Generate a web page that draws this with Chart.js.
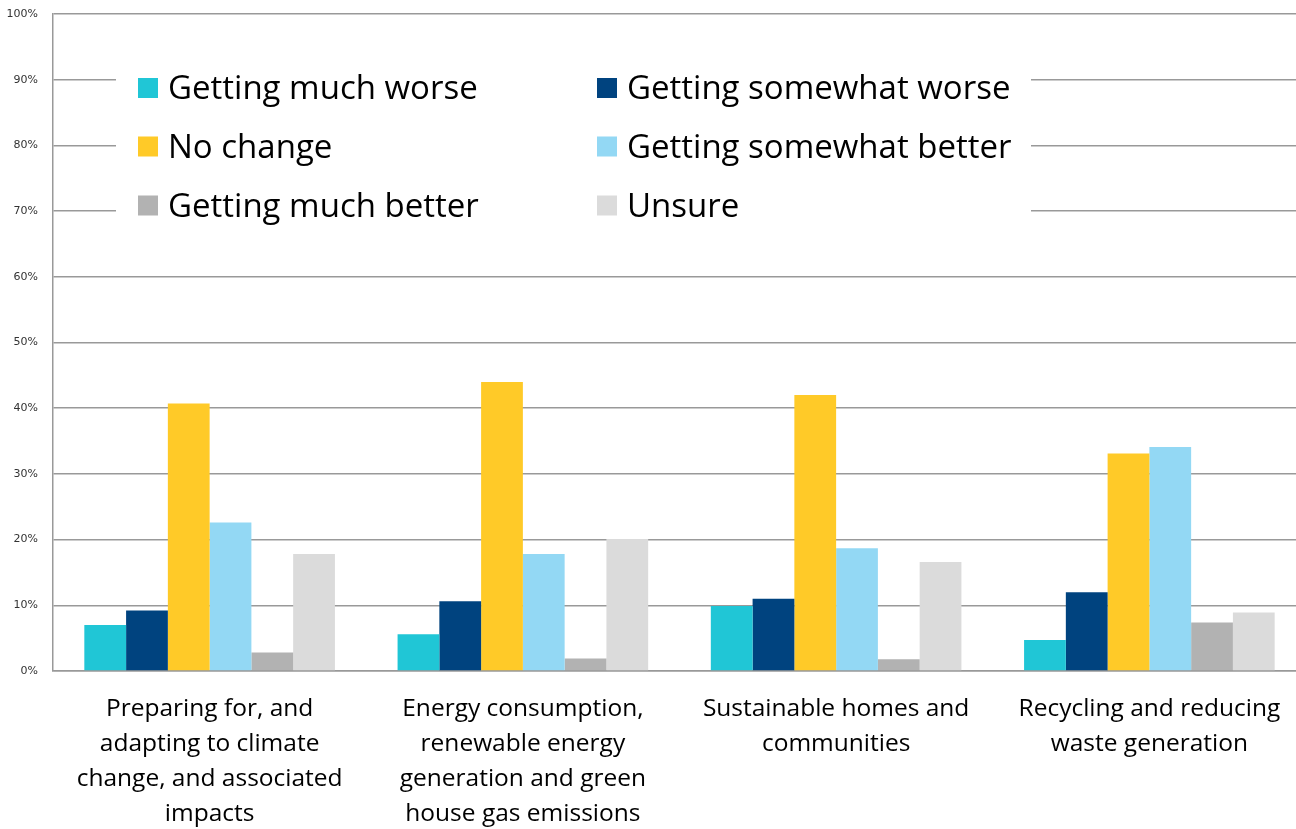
<!DOCTYPE html>
<html>
<head>
<meta charset="utf-8">
<script src="https://cdn.jsdelivr.net/npm/chart.js@4.4.1/dist/chart.umd.min.js"></script>
<style>
  html, body { margin: 0; padding: 0; background: #fff; overflow: hidden; }
  #wrap { width: 1306px; height: 829px; }
</style>
</head>
<body>
<div id="wrap"><canvas id="c" width="1306" height="829"></canvas></div>
<script>
// Kategorien (mehrzeilige Beschriftungen)
const categories = [
    ['Preparing for, and', 'adapting to climate', 'change, and associated', 'impacts'],
    ['Energy consumption,', 'renewable energy', 'generation and green', 'house gas emissions'],
    ['Sustainable homes and', 'communities'],
    ['Recycling and reducing', 'waste generation']
];

const seriesNames = ['Getting much worse', 'Getting somewhat worse', 'No change',
    'Getting somewhat better', 'Getting much better', 'Unsure'];
const seriesColors = ['#20C6D6', '#00437F', '#FFCA28', '#93D8F4', '#B2B2B2', '#DBDBDB'];

// Werte in Prozent
const muchWorse     = [7.0, 5.6, 9.9, 4.7];
const somewhatWorse = [9.2, 10.6, 11.0, 12.0];
const noChange      = [40.7, 44.0, 42.0, 33.1];
const somewhatBetter = [22.6, 17.8, 18.7, 34.1];
const muchBetter    = [2.8, 1.9, 1.8, 7.4];
const unsure        = [17.8, 20.1, 16.6, 8.9];

const yTicks = [0, 10, 20, 30, 40, 50, 60, 70, 80, 90, 100];

const allSeries = [muchWorse, somewhatWorse, noChange, somewhatBetter, muchBetter, unsure];

// Legende im Diagrammbereich zeichnen (zwei Spalten, weißer Hintergrund)
const boxLegend = {
    id: 'boxLegend',
    beforeDatasetsDraw(chart) {
        const ctx = chart.ctx;
        ctx.save();
        ctx.fillStyle = '#fff';
        ctx.fillRect(116, 52, 915, 186);
        ctx.font = '33px "Open Sans", Lato, sans-serif';
        ctx.textBaseline = 'middle';
        const rows = [88, 146.5, 205.5];
        const cols = [138, 597];
        chart.data.datasets.forEach((ds, i) => {
            const x = cols[i % 2];
            const y = rows[Math.floor(i / 2)];
            ctx.fillStyle = ds.backgroundColor;
            ctx.fillRect(x, y - 10, 20, 20);
            ctx.fillStyle = '#000';
            ctx.fillText(ds.label, x + 30, y + 2);
        });
        ctx.restore();
    }
};

const chart = new Chart(document.getElementById('c'), {
    type: 'bar',
    data: {
        labels: categories,
        datasets: allSeries.map((vals, i) => ({
            label: seriesNames[i],
            data: vals,
            backgroundColor: seriesColors[i],
            borderWidth: 0,
            categoryPercentage: 0.8,
            barPercentage: 1.0
        }))
    },
    options: {
        responsive: false,
        animation: false,
        layout: { padding: { top: 14, right: 0, left: 0, bottom: 0 } },
        plugins: {
            legend: { display: false },
            tooltip: { enabled: false }
        },
        scales: {
            x: {
                grid: { display: false, drawTicks: false },
                border: { color: '#999', width: 1.5 },
                ticks: {
                    color: '#000',
                    font: { family: '"Open Sans", Lato, sans-serif', size: 24.5, lineHeight: 1.42 },
                    padding: 21,
                    maxRotation: 0,
                    autoSkip: false
                },
                afterFit(scale) { scale.height = 158; }
            },
            y: {
                min: 0,
                max: 100,
                afterBuildTicks(scale) { scale.ticks = yTicks.map(v => ({ value: v })); },
                grid: { color: '#999', lineWidth: 1.5, drawTicks: false },
                border: { color: '#999', width: 1.5 },
                ticks: {
                    color: '#333',
                    font: { family: '"DejaVu Sans", Verdana, sans-serif', size: 11 },
                    padding: 15,
                    callback: v => v + '%'
                },
                afterFit(scale) {
                    scale.width = 53;
                    scale.paddingTop = 0;
                }
            }
        }
    },
    plugins: [boxLegend]
});
</script>
</body>
</html>
